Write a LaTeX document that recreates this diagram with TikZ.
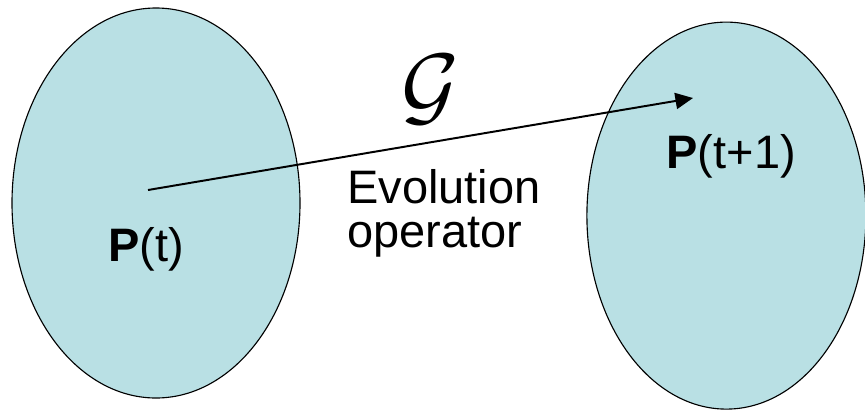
\documentclass[tikz,border=0pt]{standalone}
\usepackage{fontspec}
\setmainfont{Liberation Sans}
\definecolor{mycyan}{HTML}{B9E0E4}
\usepackage{tikz}
\usetikzlibrary{positioning, shapes.geometric, arrows.meta}
\tikzset{
	setnode/.style={
			ellipse,
			draw=black,
			line width=0.8pt,
			fill=mycyan,
			inner sep=0pt
		},
	textnode/.style={
			font=\fontsize{33.4}{40}\selectfont,
			inner sep=0pt
		},
	evolarrow/.style={
			line width=1.4pt,
			-{Triangle[length=12.5pt, width=11.5pt]}
		}
}
\begin{document}
\begin{tikzpicture}
\useasboundingbox (0,0) rectangle (21.625,-10.35);
\node[setnode, minimum width=7.2cm, minimum height=9.75cm] (pt) at (3.9,-5.075) {};
\node[setnode, minimum width=6.975cm, minimum height=9.675cm] (pt1) at (18.16,-5.39) {};

\node[textnode, anchor=base] (lpt) at (3.65,-6.525) {\textbf{P}(t)};
\node[textnode, anchor=base] (lpt1) at (18.28,-4.2) {\textbf{P}(t+1)};

\node[textnode, anchor=base west] (ev) at (8.675,-5.075) {Evolution};
\node[textnode, anchor=base west] (op) at (8.675,-6.175) {operator};
\node[inner sep=0pt, scale=6.3] (g) at (10.75,-2.25) {$\mathcal{G}$};

\coordinate (src) at (3.7,-4.75);
\coordinate (dst) at (17.325,-2.45);
\draw[evolarrow] (src) -- (dst);
\end{tikzpicture}
\end{document}
